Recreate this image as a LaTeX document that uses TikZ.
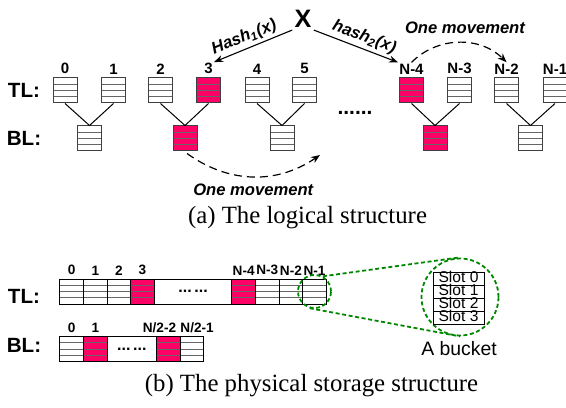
\documentclass[tikz,border=0pt]{standalone}
\usepackage{fontspec}
\setmainfont{Liberation Serif}
\setsansfont{Liberation Sans}
\usetikzlibrary{arrows.meta, positioning, calc, matrix}
\definecolor{hotred}{RGB}{255,0,102}
\definecolor{zoomgreen}{RGB}{0,135,0}
\tikzset{
  bucket/.style={draw=black!75, fill=#1, line width=0.5pt, minimum width=12pt, minimum height=12.5pt, inner sep=0pt, anchor=center,
    path picture={\foreach \k in {1,2,3}
      \draw[black!60, line width=0.5pt]
        ($(path picture bounding box.south west)!\k/4!(path picture bounding box.north west)$) --
        ($(path picture bounding box.south east)!\k/4!(path picture bounding box.north east)$);}},
  bucket/.default=white,
  cell/.style={bucket=#1, draw=black, minimum width=11.8pt},
  cell/.default=white,
  gapcell/.style={draw=black, fill=white, line width=0.5pt, minimum height=12.5pt, inner sep=0pt, anchor=center,
    path picture={}, font=\sffamily\bfseries\fontsize{8}{9}\selectfont},
  numlab/.style={font=\sffamily\bfseries\fontsize{7.5}{9}\selectfont, inner sep=0.5pt},
  numsmall/.style={font=\sffamily\bfseries\fontsize{6.8}{8}\selectfont, inner sep=0.5pt},
  rowlab/.style={font=\sffamily\bfseries\fontsize{10.3}{12}\selectfont},
  link/.style={line width=0.5pt},
  hasharrow/.style={-{Stealth[length=4.5pt, width=3.5pt]}, line width=0.55pt},
  hashlab/.style={font=\sffamily\bfseries\itshape\fontsize{8.3}{10}\selectfont, inner sep=1.5pt},
  move/.style={-{Stealth[length=4.5pt, width=3.5pt]}, dash pattern=on 4pt off 2.5pt, line width=0.6pt},
  movelab/.style={font=\sffamily\bfseries\itshape\fontsize{8.3}{10}\selectfont},
  zoomring/.style={circle, draw=zoomgreen, dash pattern=on 2pt off 1.3pt, line width=0.9pt, inner sep=0pt},
  zoomline/.style={draw=zoomgreen, dash pattern=on 2pt off 1.3pt, line width=0.9pt},
  slot/.style={draw, line width=0.5pt, minimum width=25.5pt, minimum height=6.5pt, text height=5.2pt, text depth=1pt,
    inner sep=0pt, font=\sffamily\fontsize{7.8}{8}\selectfont},
  subcap/.style={font=\fontsize{12.4}{14}\selectfont},
}
\begin{document}
\begin{tikzpicture}[x=0.5pt, y=0.5pt]
  \useasboundingbox (0,0) rectangle (566,407);

  % (a) top level buckets
  \foreach \i/\x/\lab/\c in {0/65/0/white, 1/113.5/1/white, 2/160.5/2/white, 3/208.5/3/hotred, 4/257/4/white,
      5/304.5/5/white, 6/411.5/N-4/hotred, 7/459.5/N-3/white, 8/506.5/N-2/white, 9/555/N-1/white}{
    \node[bucket=\c] (t\i) at (\x,316.5) {};
    \node[numlab, anchor=south] (n\i) at ([yshift=1pt]t\i.north) {\lab};
  }

  % (a) bottom level buckets
  \foreach \i/\x/\c in {0/89.5/white, 1/185/hotred, 2/282/white, 3/435/hotred, 4/530.5/white}
    \node[bucket=\c] (b\i) at (\x,268.5) {};

  \foreach \i in {0,...,4}{
    \pgfmathtruncatemacro\lft{2*\i}
    \pgfmathtruncatemacro\rgt{2*\i+1}
    \draw[link] (t\lft.south) -- (b\i.north);
    \draw[link] (t\rgt.south) -- (b\i.north);
  }

  \node[rowlab] (tlA) at (24,317) {TL:};
  \node[rowlab] (blA) at (24,269) {BL:};
  \node[font=\sffamily\bfseries\fontsize{10.5}{12}\selectfont] (gapdots) at (355,294) {......};

  % key and the two hashes
  \node[font=\sffamily\bfseries\fontsize{12.6}{14}\selectfont, inner sep=1pt] (key) at (303,388) {X};
  \draw[hasharrow] (key.south west) -- node[hashlab, sloped, above, pos=0.56] {Hash\textsubscript{1}(x)} (n3.north east);
  \draw[hasharrow] (key.south east) -- node[hashlab, sloped, above, pos=0.55] {hash\textsubscript{2}(x)} (n6.north west);

  % movements
  \draw[move] (n6.north) to[bend left=45] node[movelab, above=1pt, xshift=3pt] {One movement} (n8.north);
  \coordinate (mvend) at (320,252);
  \draw[move] ([xshift=1pt,yshift=-1pt]b1.south) to[bend right=35] node[movelab, below=0pt] {One movement} (mvend);

  \node[subcap] (capa) at (307.5,189) {(a) The logical structure};

  % (b) physical arrays
  \matrix[matrix of nodes, nodes in empty cells, nodes={cell}, column sep=-0.5pt, inner sep=0pt, anchor=west] (tla) at (59,115.5) {
    & & & |[cell=hotred]| & |[gapcell, minimum width=38.8pt]| ...\,... & |[cell=hotred]| & & & \\
  };
  \foreach \k/\lab in {1/0, 2/1, 3/2, 4/3, 6/N-4, 7/N-3, 8/N-2, 9/N-1}
    \node[numsmall, anchor=south] (pt\k) at ([yshift=1pt]tla-1-\k.north) {\lab};

  \matrix[matrix of nodes, nodes in empty cells, nodes={cell}, column sep=-0.5pt, inner sep=0pt, anchor=west] (bla) at (59,58) {
    & |[cell=hotred]| & |[gapcell, minimum width=24.8pt]| ...\,... & |[cell=hotred]| & \\
  };
  \node[numsmall, anchor=south] (pb1) at ([yshift=1pt]bla-1-1.north) {0};
  \node[numsmall, anchor=south] (pb2) at ([yshift=1pt]bla-1-2.north) {1};
  \node[numsmall, anchor=south] (pb4) at ([xshift=-4.5pt,yshift=1pt]bla-1-4.north) {N/2-2};
  \node[numsmall, anchor=south] (pb5) at ([xshift=2.5pt,yshift=1pt]bla-1-5.north) {N/2-1};

  \node[rowlab] (tlB) at (24,110.5) {TL:};
  \node[rowlab] (blB) at (24,61.5) {BL:};

  % zoom on one bucket
  \node[zoomring, minimum size=16.5pt] (zoomsrc) at (tla-1-9) {};
  \node[zoomring, minimum size=38.5pt] (zoomdst) at (460,110) {};
  \draw[zoomline] (zoomsrc.61) -- (zoomdst.93);
  \draw[zoomline] (zoomsrc.254) -- (zoomdst.270);
  \foreach \k in {0,...,3}
    \node[slot] (s\k) at (458.5,128.5-13*\k) {Slot \k};
  \node[font=\sffamily\fontsize{9.7}{11}\selectfont] (bucketcap) at (459,58.5) {A bucket};

  \node[subcap] (capb) at (311.5,21) {(b) The physical storage structure};
\end{tikzpicture}
\end{document}
